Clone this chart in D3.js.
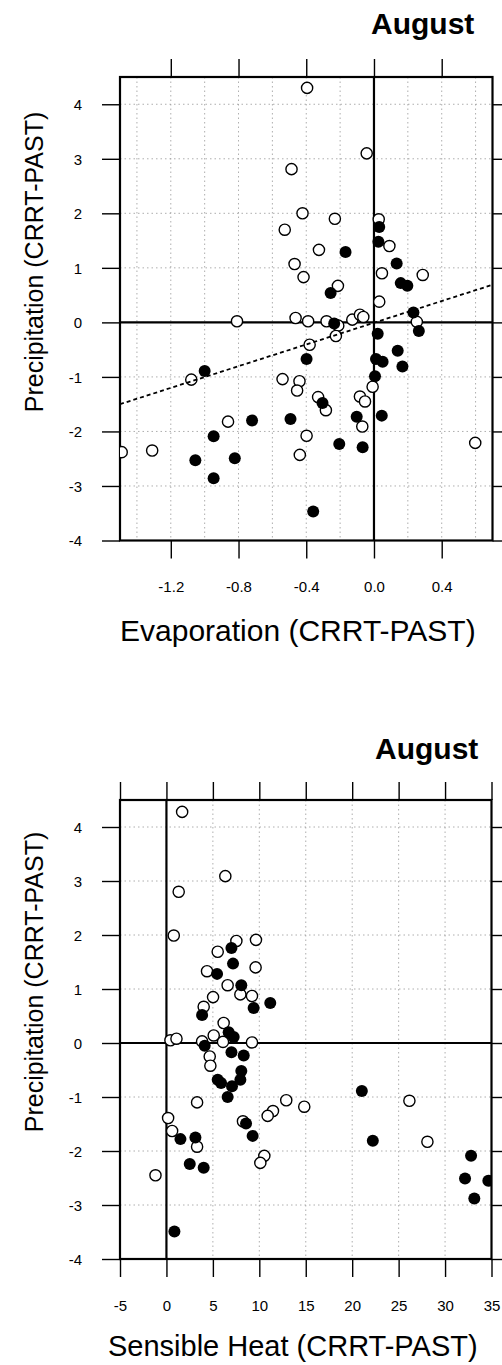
<!DOCTYPE html>
<html>
<head>
<meta charset="utf-8">
<script src="https://cdn.jsdelivr.net/npm/d3@7"></script>
<style>
  html, body { margin: 0; padding: 0; background: #fff; }
  svg { display: block; }
  text { font-family: "Liberation Sans", Arial, Helvetica, sans-serif; fill: #000; }
</style>
</head>
<body>
<svg id="chart" width="502" height="1365"></svg>
<script>
// ---------- Data ----------
const title = "August";
const yLabel = "Precipitation (CRRT-PAST)";
const yTicks = [-4, -3, -2, -1, 0, 1, 2, 3, 4];

// Panel 1: Evaporation vs Precipitation
const evapLabel = "Evaporation (CRRT-PAST)";
const evapTicks = [-1.2, -0.8, -0.4, 0.0, 0.4];
const evapGrid = [-1.4, -1.2, -1.0, -0.8, -0.6, -0.4, -0.2, 0.0, 0.2, 0.4, 0.6];
const evapOpenX = [-0.395, -0.043, -0.487, -0.422, -0.231, 0.028, -0.527, 0.091, -0.325, -0.469, 0.047, 0.288, -0.416, -0.213, 0.031, -0.809, -0.463, -0.389, -0.280, -0.211, -0.128, -0.083, -0.063, 0.253, -0.225, -0.380, -1.079, -0.540, -0.440, -0.454, -0.008, -0.330, -0.284, -0.083, -0.053, -0.069, -0.862, -0.398, 0.598, -1.49, -1.31, -0.438];
const evapOpenY = [4.30, 3.10, 2.81, 2.00, 1.90, 1.89, 1.70, 1.40, 1.33, 1.07, 0.90, 0.87, 0.83, 0.67, 0.38, 0.02, 0.08, 0.02, 0.02, -0.06, 0.05, 0.14, 0.10, 0.01, -0.25, -0.41, -1.05, -1.04, -1.08, -1.25, -1.18, -1.37, -1.61, -1.36, -1.45, -1.91, -1.82, -2.08, -2.21, -2.38, -2.35, -2.43];
const evapFilledX = [0.031, 0.026, -0.168, 0.134, 0.158, 0.197, -0.256, 0.233, -0.235, 0.265, 0.022, -0.398, 0.140, 0.012, 0.051, 0.168, 0.006, -1.0, -0.304, -0.102, 0.046, -0.72, -0.493, -0.947, -0.205, -0.067, -1.055, -0.822, -0.947, -0.359];
const evapFilledY = [1.75, 1.48, 1.29, 1.08, 0.72, 0.67, 0.54, 0.18, -0.02, -0.16, -0.21, -0.67, -0.52, -0.67, -0.72, -0.81, -0.99, -0.89, -1.48, -1.73, -1.71, -1.80, -1.77, -2.09, -2.23, -2.29, -2.53, -2.49, -2.86, -3.47];
const evapLineX = [-1.5, 0.7];
const evapLineY = [-1.5, 0.69];

// Panel 2: Sensible heat vs Precipitation
const shLabel = "Sensible Heat (CRRT-PAST)";
const shTicks = [-5, 0, 5, 10, 15, 20, 25, 30, 35];
const shOpenX = [1.69, 6.34, 1.32, 0.79, 7.53, 9.64, 5.52, 9.60, 4.37, 6.59, 7.96, 9.21, 5.02, 4.01, 6.16, 5.09, 0.43, 1.08, 3.84, 6.09, 9.21, 4.66, 4.73, 3.30, 12.9, 14.84, 26.16, 11.47, 10.90, 0.18, 8.24, 0.61, 3.30, 28.1, 10.54, 10.11, -1.18];
const shOpenY = [4.28, 3.09, 2.80, 1.99, 1.89, 1.91, 1.69, 1.40, 1.33, 1.07, 0.90, 0.87, 0.85, 0.67, 0.37, 0.14, 0.05, 0.08, 0.03, 0.02, 0.01, -0.25, -0.42, -1.10, -1.06, -1.18, -1.07, -1.26, -1.35, -1.39, -1.45, -1.63, -1.92, -1.83, -2.09, -2.22, -2.45];
const shFilledX = [7.0, 7.17, 5.45, 8.06, 11.18, 9.39, 3.84, 6.7, 7.24, 4.12, 7.0, 8.32, 8.06, 7.96, 5.52, 5.88, 7.06, 6.59, 21.04, 8.57, 9.28, 1.51, 3.12, 22.22, 2.51, 4.01, 32.8, 32.15, 34.66, 33.15, 0.86];
const shFilledY = [1.76, 1.47, 1.28, 1.07, 0.74, 0.65, 0.52, 0.20, 0.11, -0.05, -0.17, -0.23, -0.52, -0.68, -0.68, -0.74, -0.80, -1.00, -0.89, -1.49, -1.72, -1.78, -1.75, -1.81, -2.24, -2.31, -2.09, -2.51, -2.55, -2.88, -3.49];

// ---------- Drawing ----------
const svg = d3.select("#chart");
const hyphen = f => (d => f(d).replace("\u2212", "-"));

function drawPanel(cfg) {
  const g = svg.append("g");
  const x = d3.scaleLinear().domain(cfg.xDomain).range([cfg.left, cfg.right]);
  const y = d3.scaleLinear().domain([-4, 4.5]).range([cfg.bottom, cfg.top]);
  const clipId = "clip" + cfg.id;
  svg.append("clipPath").attr("id", clipId).append("rect")
    .attr("x", cfg.left).attr("y", cfg.top)
    .attr("width", cfg.right - cfg.left).attr("height", cfg.bottom - cfg.top);

  // dotted grid
  g.selectAll(".vg").data(cfg.xGrid).join("line")
    .attr("x1", d => x(d)).attr("x2", d => x(d))
    .attr("y1", cfg.top).attr("y2", cfg.bottom)
    .attr("stroke", "#999").attr("stroke-width", 0.8).attr("stroke-dasharray", "1.5,3");
  g.selectAll(".hg").data(yTicks).join("line")
    .attr("x1", cfg.left).attr("x2", cfg.right)
    .attr("y1", d => y(d)).attr("y2", d => y(d))
    .attr("stroke", "#999").attr("stroke-width", 0.8).attr("stroke-dasharray", "1.5,3");

  // axes with outward ticks (no domain path)
  const tl = 18;
  const axB = g.append("g").attr("transform", `translate(0,${cfg.bottom})`)
    .call(d3.axisBottom(x).tickValues(cfg.xTicks).tickSize(tl).tickPadding(23).tickFormat(hyphen(cfg.xFmt)));
  const axT = g.append("g").attr("transform", `translate(0,${cfg.top})`)
    .call(d3.axisTop(x).tickValues(cfg.xTicks).tickSize(tl).tickFormat(""));
  const axL = g.append("g").attr("transform", `translate(${cfg.left},0)`)
    .call(d3.axisLeft(y).tickValues(yTicks).tickSize(tl).tickPadding(20).tickFormat(hyphen(d3.format("d"))));
  const axR = g.append("g").attr("transform", `translate(${cfg.right},0)`)
    .call(d3.axisRight(y).tickValues(yTicks).tickSize(tl).tickFormat(""));
  [axB, axT, axL, axR].forEach(a => {
    a.select(".domain").remove();
    a.selectAll(".tick line").attr("stroke", "#000").attr("stroke-width", 1.4);
  });
  axB.selectAll(".tick text").attr("font-size", 15).attr("font-family", "Liberation Sans, Arial, sans-serif");
  axL.selectAll(".tick text").attr("font-size", 15).attr("font-family", "Liberation Sans, Arial, sans-serif").attr("dy", "0.35em");

  // frame
  g.append("rect").attr("x", cfg.left).attr("y", cfg.top)
    .attr("width", cfg.right - cfg.left).attr("height", cfg.bottom - cfg.top)
    .attr("fill", "none").attr("stroke", "#000").attr("stroke-width", 2.2);

  // zero lines
  g.append("line").attr("x1", x(0)).attr("x2", x(0)).attr("y1", cfg.top).attr("y2", cfg.bottom)
    .attr("stroke", "#000").attr("stroke-width", 2.2);
  g.append("line").attr("x1", cfg.left).attr("x2", cfg.right).attr("y1", y(0)).attr("y2", y(0))
    .attr("stroke", "#000").attr("stroke-width", 2.2);

  const pts = g.append("g").attr("clip-path", `url(#${clipId})`);
  const open = cfg.openX.map((v, i) => [v, cfg.openY[i]]);
  const filled = cfg.filledX.map((v, i) => [v, cfg.filledY[i]]);
  pts.selectAll(".o").data(open).join("circle")
    .attr("cx", d => x(d[0])).attr("cy", d => y(d[1])).attr("r", 5.6)
    .attr("fill", "#fff").attr("stroke", "#000").attr("stroke-width", 1.4);
  pts.selectAll(".f").data(filled).join("circle")
    .attr("cx", d => x(d[0])).attr("cy", d => y(d[1])).attr("r", 6)
    .attr("fill", "#000");

  if (cfg.lineX) {
    const line = d3.line().x(d => x(d[0])).y(d => y(d[1]));
    pts.append("path").datum(cfg.lineX.map((v, i) => [v, cfg.lineY[i]]))
      .attr("d", line).attr("fill", "none").attr("stroke", "#000")
      .attr("stroke-width", 1.8).attr("stroke-dasharray", "4,3");
  }

  // title
  svg.append("text").attr("x", cfg.titleX).attr("y", cfg.titleY)
    .attr("font-size", 30).attr("font-weight", "bold").text(title);
  // x label
  svg.append("text").attr("x", cfg.xLabelX).attr("y", cfg.xLabelY)
    .attr("font-size", cfg.xLabelSize).text(cfg.xLabel);
  // y label
  svg.append("text")
    .attr("transform", `translate(${cfg.yLabelX},${cfg.yLabelY}) rotate(-90)`)
    .attr("text-anchor", "middle").attr("font-size", 25).text(yLabel);
}

drawPanel({
  id: 1, left: 120, right: 492.5, top: 77, bottom: 540.5,
  xDomain: [-1.5, 0.7], xTicks: evapTicks, xGrid: evapGrid, xFmt: d3.format(".1f"),
  openX: evapOpenX, openY: evapOpenY, filledX: evapFilledX, filledY: evapFilledY,
  lineX: evapLineX, lineY: evapLineY,
  titleX: 371, titleY: 34, xLabel: evapLabel, xLabelX: 120, xLabelY: 641, xLabelSize: 30,
  yLabelX: 43, yLabelY: 262
});
drawPanel({
  id: 2, left: 120, right: 491.5, top: 800, bottom: 1259,
  xDomain: [-5, 35], xTicks: shTicks, xGrid: shTicks, xFmt: d3.format("d"),
  openX: shOpenX, openY: shOpenY, filledX: shFilledX, filledY: shFilledY,
  titleX: 375, titleY: 759, xLabel: shLabel, xLabelX: 108, xLabelY: 1356, xLabelSize: 29,
  yLabelX: 43, yLabelY: 982
});
</script>
</body>
</html>
